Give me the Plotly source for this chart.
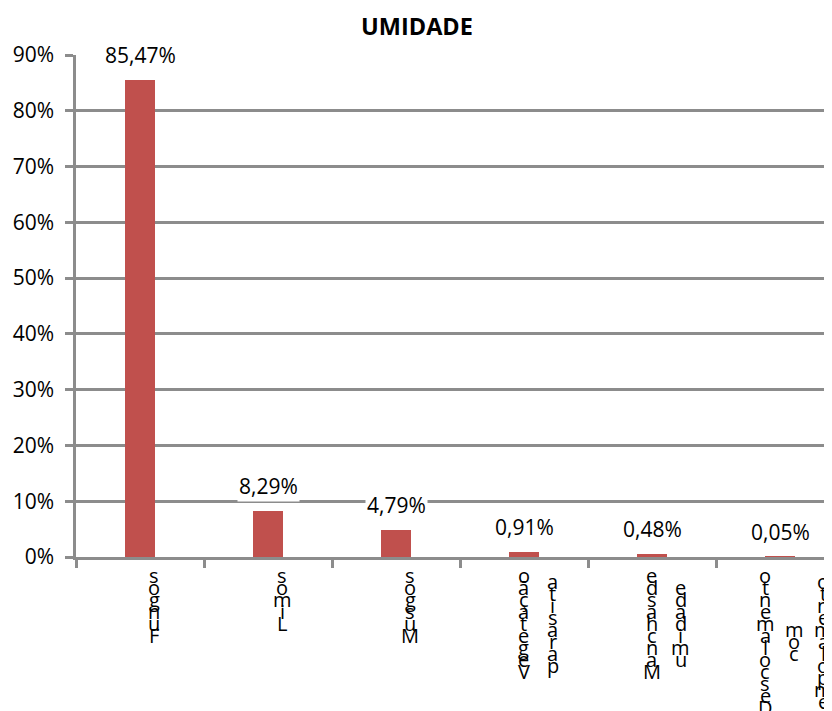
import textwrap
import plotly.graph_objects as go

categories = ["Fungos", "Limos", "Musgos", "Vegetação parasita",
              "Manchas de umidade", "Descolamento com empolamento"]
values = [85.47, 8.29, 4.79, 0.91, 0.48, 0.05]
value_labels = ["85,47%", "8,29%", "4,79%", "0,91%", "0,48%", "0,05%"]
y_ticks = [0, 10, 20, 30, 40, 50, 60, 70, 80, 90]
y_tick_labels = ["0%", "10%", "20%", "30%", "40%", "50%", "60%", "70%", "80%", "90%"]

FONT = "Open Sans"
GRID = "#8c8c8c"
BAR = "#C0504D"

W, H = 832, 711
ML, MT, MB = 68, 47, 162
CAT_PX = 128

fig = go.Figure()
fig.add_trace(go.Bar(x=categories, y=values, marker_color=BAR,
                     marker_line_width=0, width=0.23, hoverinfo="skip"))

annotations = []
# data labels
for c, v, t in zip(categories, values, value_labels):
    annotations.append(dict(x=c, y=v, xref="x", yref="y", text=t, showarrow=False,
                            yshift=25, yanchor="middle", bgcolor="white", borderpad=1,
                            font=dict(family=FONT, size=21, color="#000")))

# stacked, reversed category labels (as in the source chart)
pitch = 12
col_gap = 29
top_shift = 18
for c in categories:
    cols = textwrap.wrap(c, 10, break_long_words=False)
    cols = [w.replace(" ", "")[::-1] for w in cols]
    n_max = max(len(w) for w in cols)
    ncol = len(cols)
    for j, w in enumerate(cols):
        xs = 14 + (j - (ncol - 1) / 2) * col_gap
        off = (n_max - len(w)) / 2
        for i, ch in enumerate(w):
            annotations.append(dict(x=c, y=0, xref="x", yref="paper", text=ch,
                                    showarrow=False, xshift=xs,
                                    yshift=-(top_shift + (off + i) * pitch),
                                    xanchor="center", yanchor="middle",
                                    font=dict(family=FONT, size=20, color="#000")))

fig.update_layout(
    width=W, height=H,
    margin=dict(l=ML, r=0, t=MT, b=MB, pad=0),
    paper_bgcolor="white", plot_bgcolor="white",
    showlegend=False,
    bargap=0,
    title=dict(text="<b>UMIDADE</b>", x=409 / W, xref="container", xanchor="center",
               y=1 - 19 / H, yref="container", yanchor="middle",
               font=dict(family=FONT, size=23.5, color="#000")),
    annotations=annotations,
    font=dict(family=FONT, size=21, color="#000"),
)
fig.update_xaxes(type="category", range=[-0.5, -0.5 + (W - ML) / CAT_PX],
                 showticklabels=False,
                 showgrid=False, showline=True, linecolor=GRID, linewidth=2.5,
                 ticks="outside", tickson="boundaries", ticklen=8, tickwidth=2.5,
                 tickcolor=GRID, zeroline=False)
fig.update_yaxes(range=[0, 90], tickvals=y_ticks, ticktext=y_tick_labels,
                 showgrid=True, gridcolor=GRID, gridwidth=2.5,
                 showline=True, linecolor=GRID, linewidth=2.5,
                 ticks="outside", ticklen=8, tickwidth=2.5, tickcolor=GRID,
                 ticklabelstandoff=7, zeroline=False,
                 tickfont=dict(family=FONT, size=21, color="#000"))

fig.write_html("out.html")
